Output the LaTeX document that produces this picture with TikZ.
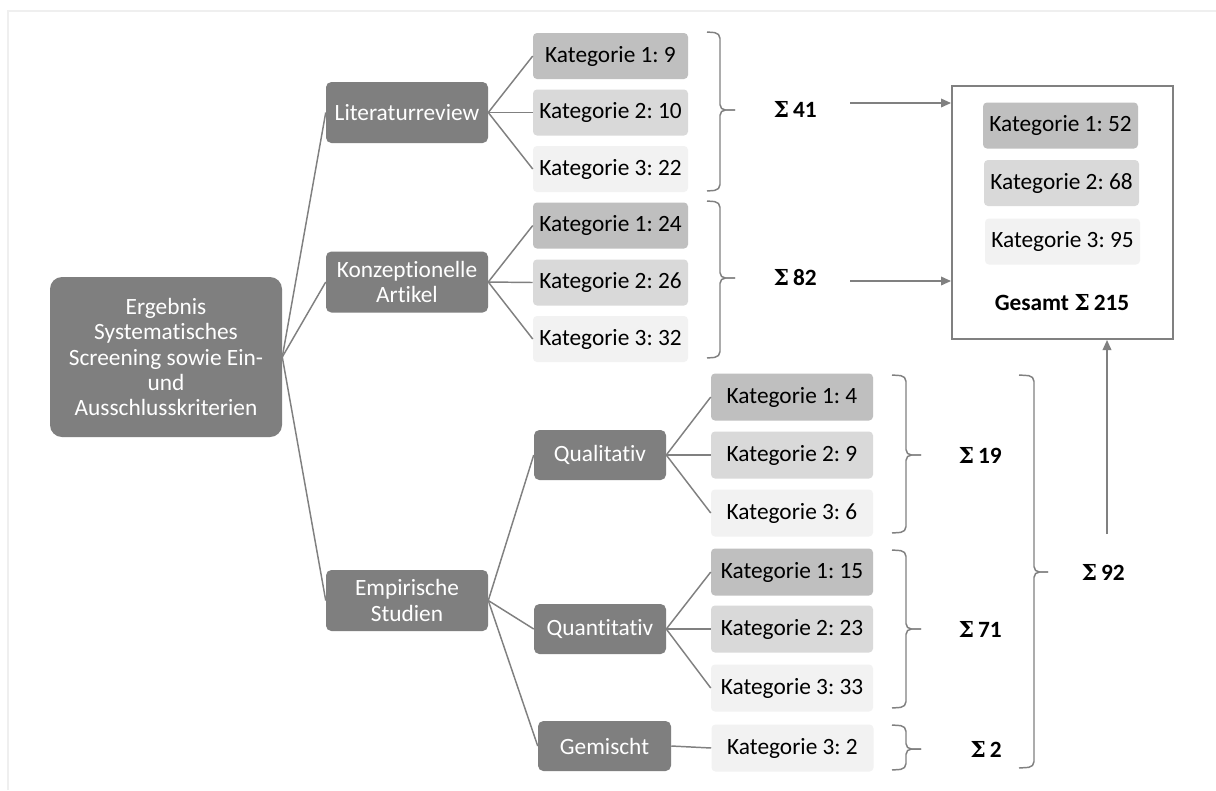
\documentclass[tikz,border=0pt]{standalone}
\usepackage{fontspec}
\setmainfont{Carlito}[Ligatures=NoCommon]
\newfontfamily\sigfont{DejaVu Serif}
\usetikzlibrary{arrows.meta}
\definecolor{dk}{HTML}{7F7F7F}
\definecolor{cA}{HTML}{BFBFBF}
\definecolor{cB}{HTML}{D9D9D9}
\definecolor{cC}{HTML}{F2F2F2}
\definecolor{ln}{HTML}{808080}
\definecolor{fr}{HTML}{EFEFEF}
\newcommand{\sigsym}{{\sigfont\bfseries\fontsize{16.5}{19}\selectfont Σ}}
\newcommand{\sumlbl}[1]{\textbf{\sigsym\,#1}}
\newcommand{\brk}[6]{% x0 x1 x2 ytop ybot ytip
  \draw[brc] (#1,#4) -- (#2,#4+1) -- (#2,#6) -- (#3,#6);
  \draw[brc] (#1,#5) -- (#2,#5-1) -- (#2,#6) -- (#3,#6);}
\frenchspacing
\begin{document}
\begin{tikzpicture}[x=0.75pt,y=-0.75pt,
  every node/.style={font=\fontsize{17.5}{19}\selectfont, inner sep=0pt},
  dkbox/.style={fill=dk, text=white, rounded corners=4pt, align=center},
  lvone/.style={dkbox, minimum width=121.5pt, minimum height=45.75pt},
  lvtwo/.style={dkbox, minimum width=99pt, minimum height=37.5pt},
  catbox/.style={rounded corners=3pt, minimum width=116.25pt, minimum height=34.5pt},
  ecatbox/.style={rounded corners=3pt, minimum width=121.5pt, minimum height=35.25pt},
  kA/.style={fill=cA}, kB/.style={fill=cB}, kC/.style={fill=cC},
  conn/.style={draw=ln, line width=1.1pt},
  arr/.style={draw=ln, line width=1.1pt, -{Triangle[length=7.5pt,width=6.5pt]}},
  brc/.style={draw=ln, line width=1.1pt, rounded corners=4pt},
  sumnode/.style={text=black}]
\useasboundingbox (0,0) rectangle (1216,790);
\fill[white] (0,0) rectangle (1216,790);
\draw[fr, line width=1.5pt] (7.5,790) -- (7.5,10.5) -- (1216,10.5);

% root
\node[dkbox, rounded corners=9pt, minimum width=174pt, minimum height=120pt] (root) at (166,357)
  {Ergebnis\\Systematisches\\Screening sowie Ein-\\und\\Ausschlusskriterien};

% level 1
\node[lvone] (lit) at (407,112.5) {Literaturreview};
\node[lvone] (konz) at (407,282) {Konzeptionelle\\Artikel};
\node[lvone] (emp) at (407,600.5) {Empirische\\Studien};

% level 2
\node[lvtwo] (qual) at (600,455) {Qualitativ};
\node[lvtwo] (quant) at (600,629) {Quantitativ};
\node[lvtwo, minimum width=99.75pt] (gem) at (604.5,746) {Gemischt};

% categories Literaturreview
\node[catbox,kA] (l1) at (610.5,56) {Kategorie 1: 9};
\node[catbox,kB] (l2) at (610.5,112.5) {Kategorie 2: 10};
\node[catbox,kC] (l3) at (610.5,169) {Kategorie 3: 22};
% categories Konzeptionelle
\node[catbox,kA] (k1) at (610.5,225.5) {Kategorie 1: 24};
\node[catbox,kB] (k2) at (610.5,282.5) {Kategorie 2: 26};
\node[catbox,kC] (k3) at (610.5,339) {Kategorie 3: 32};
% categories Qualitativ
\node[ecatbox,kA] (q1) at (792,397) {Kategorie 1: 4};
\node[ecatbox,kB] (q2) at (792,455) {Kategorie 2: 9};
\node[ecatbox,kC] (q3) at (792,513) {Kategorie 3: 6};
% categories Quantitativ
\node[ecatbox,kA] (n1) at (792,572) {Kategorie 1: 15};
\node[ecatbox,kB] (n2) at (792,629) {Kategorie 2: 23};
\node[ecatbox,kC] (n3) at (792,688) {Kategorie 3: 33};
% Gemischt
\node[ecatbox,kC] (g3) at (792.5,748) {Kategorie 3: 2};

% connectors
\foreach \c in {lit,konz,emp} \draw[conn] (root.east) -- (\c.west);
\foreach \c in {l1,l2,l3} \draw[conn] (lit.east) -- (\c.west);
\foreach \c in {k1,k2,k3} \draw[conn] (konz.east) -- (\c.west);
\foreach \c in {qual,quant,gem} \draw[conn] (emp.east) -- (\c.west);
\foreach \c in {q1,q2,q3} \draw[conn] (qual.east) -- (\c.west);
\foreach \c in {n1,n2,n3} \draw[conn] (quant.east) -- (\c.west);
\draw[conn] (gem.east) -- (g3.west);

% braces
\brk{707}{720}{735}{32}{191}{110}
\brk{707}{720}{735}{201}{358}{278}
\brk{892}{906}{921}{375}{533}{455}
\brk{892}{906}{921}{550}{708}{629}
\brk{892}{906}{921}{725}{770}{749}
\brk{1019}{1034}{1048}{375}{768}{572}

% sums
\node[sumnode, anchor=east] (s41) at (817,109) {\sumlbl{41}};
\node[sumnode, anchor=east] (s82) at (817,278) {\sumlbl{82}};
\node[sumnode, anchor=east] (s19) at (1002,455) {\sumlbl{19}};
\node[sumnode, anchor=east] (s71) at (1002,629) {\sumlbl{71}};
\node[sumnode, anchor=east] (s2) at (1002,749) {\sumlbl{2}};
\node[sumnode, anchor=east] (s92) at (1125,572) {\sumlbl{92}};

% total box
\node[draw=ln, line width=1.5pt, minimum width=165.75pt, minimum height=189.75pt] (tot) at (1062.5,212.5) {};
\node[catbox,kA] (t1) at (1060.5,125.5) {Kategorie 1: 52};
\node[catbox,kB] (t2) at (1061.5,183) {Kategorie 2: 68};
\node[catbox,kC] (t3) at (1062.5,241.5) {Kategorie 3: 95};
\node (tsum) at (1062,303) {\textbf{Gesamt \sigsym\,215}};

% arrows
\coordinate (a1) at (850,103);
\coordinate (a2) at (850,281);
\coordinate (a3) at (1107,534);
\draw[arr] (a1) -- (a1 -| tot.west);
\draw[arr] (a2) -- (a2 -| tot.west);
\draw[arr] (a3) -- (a3 |- tot.south);
\end{tikzpicture}
\end{document}
